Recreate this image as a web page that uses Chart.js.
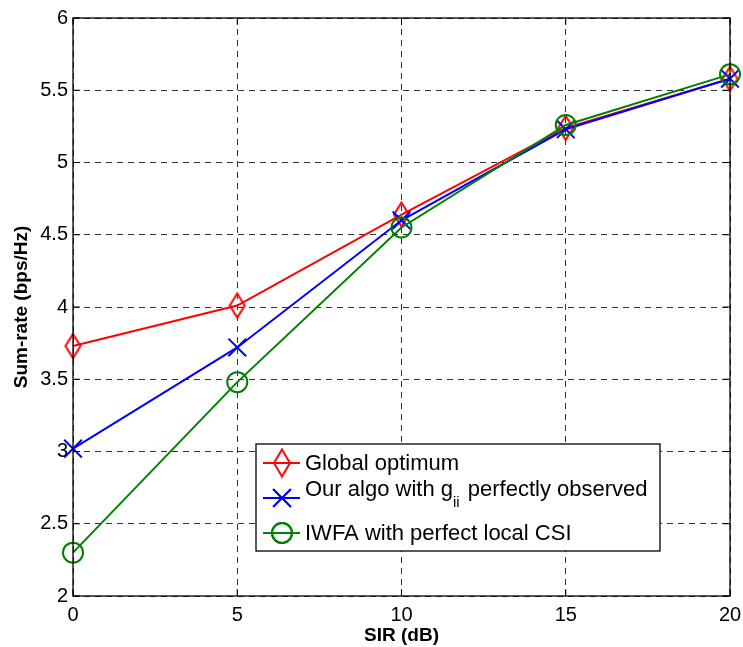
<!DOCTYPE html>
<html>
<head>
<meta charset="utf-8">
<script src="https://cdn.jsdelivr.net/npm/chart.js@4"></script>
<style>
  html, body { margin: 0; padding: 0; background: #fff; }
  #wrap { width: 743px; height: 647px; }
</style>
</head>
<body>
<div id="wrap"><canvas id="chart" width="743" height="647"></canvas></div>
<script>
// data
const sir = [0, 5, 10, 15, 20];
const globalOpt = [3.73, 4.01, 4.64, 5.24, 5.58];
const ourAlgo = [3.02, 3.72, 4.60, 5.23, 5.58];
const iwfa = [2.30, 3.48, 4.55, 5.26, 5.61];
const seriesNames = ["Global optimum", "Our algo with g_{ii} perfectly observed", "IWFA with perfect local CSI"];
const seriesColors = ["#ff0000", "#0000ff", "#008000"];
const xTicks = [0, 5, 10, 15, 20];
const yTicks = [2, 2.5, 3, 3.5, 4, 4.5, 5, 5.5, 6];

const FONT = "'Liberation Sans', Arial, Helvetica, sans-serif";

// matlab's 'd' marker is taller than wide, so draw it on a small canvas
function diamond(w, h, color) {
  const c = document.createElement('canvas');
  c.width = w + 4; c.height = h + 4;
  const g = c.getContext('2d');
  g.strokeStyle = color;
  g.lineWidth = 2;
  g.beginPath();
  g.moveTo(c.width / 2, 2);
  g.lineTo(c.width - 2, c.height / 2);
  g.lineTo(c.width / 2, c.height - 2);
  g.lineTo(2, c.height / 2);
  g.closePath();
  g.stroke();
  return c;
}

const seriesMarkers = [diamond(15, 24, seriesColors[0]), "crossRot", "circle"];
const legendMarkers = [diamond(16, 27, seriesColors[0]), "crossRot", "circle"];
const markerSize = [11, 12.5, 10];

function pts(ys) {
  return sir.map((x, i) => ({ x: x, y: ys[i] }));
}

const datasets = [globalOpt, ourAlgo, iwfa].map((ys, i) => ({
  label: seriesNames[i],
  data: pts(ys),
  borderColor: seriesColors[i],
  backgroundColor: 'rgba(0,0,0,0)',
  pointBorderColor: seriesColors[i],
  pointBackgroundColor: 'rgba(0,0,0,0)',
  pointStyle: seriesMarkers[i],
  pointRadius: markerSize[i],
  pointBorderWidth: 2,
  borderWidth: 2,
  tension: 0,
  clip: false,
  order: 3 - i   // later series on top, like matlab
}));

// box, inward ticks and the legend, drawn matlab style
const matlabBox = {
  id: 'matlabBox',
  afterDatasetsDraw(chart) {
    const ctx = chart.ctx;
    const a = chart.chartArea;
    const xs = chart.scales.x, ys = chart.scales.y;
    ctx.save();
    ctx.strokeStyle = '#000';
    ctx.lineWidth = 1.3;
    ctx.setLineDash([]);
    ctx.strokeRect(a.left, a.top, a.right - a.left, a.bottom - a.top);
    // inward ticks
    ctx.lineWidth = 1;
    xTicks.forEach(v => {
      const px = xs.getPixelForValue(v);
      ctx.beginPath();
      ctx.moveTo(px, a.bottom); ctx.lineTo(px, a.bottom - 7);
      ctx.moveTo(px, a.top); ctx.lineTo(px, a.top + 7);
      ctx.stroke();
    });
    yTicks.forEach(v => {
      const py = ys.getPixelForValue(v);
      ctx.beginPath();
      ctx.moveTo(a.left, py); ctx.lineTo(a.left + 7, py);
      ctx.moveTo(a.right, py); ctx.lineTo(a.right - 7, py);
      ctx.stroke();
    });

    // legend
    const lx = 256, ly = 444, lw = 404, lh = 107;
    ctx.fillStyle = '#fff';
    ctx.fillRect(lx, ly, lw, lh);
    ctx.strokeStyle = '#000';
    ctx.lineWidth = 1.3;
    ctx.strokeRect(lx, ly, lw, lh);
    const rows = [463, 498, 533];
    const legSize = [12, 12.5, 10];
    chart.data.datasets.forEach((ds, i) => {
      const y = rows[i];
      ctx.strokeStyle = ds.borderColor;
      ctx.lineWidth = 2;
      ctx.beginPath();
      ctx.moveTo(lx + 7, y); ctx.lineTo(lx + 44, y);
      ctx.stroke();
      ctx.fillStyle = 'rgba(0,0,0,0)';
      Chart.helpers.drawPoint(ctx, {
        pointStyle: legendMarkers[i], radius: legSize[i], borderWidth: 2, rotation: 0
      }, lx + 26, y);
      ctx.stroke();
      // text, with optional subscript written as _{...}
      ctx.fillStyle = '#000';
      ctx.textBaseline = 'middle';
      ctx.textAlign = 'left';
      const m = ds.label.match(/^(.*?)_\{(.*?)\}(.*)$/);
      let tx = lx + 49;
      ctx.font = '22px ' + FONT;
      if (m) {
        ctx.fillText(m[1], tx, y - 8);
        tx += ctx.measureText(m[1]).width;
        ctx.font = '15px ' + FONT;
        ctx.fillText(m[2], tx, y + 5);
        tx += ctx.measureText(m[2]).width + 2;
        ctx.font = '22px ' + FONT;
        ctx.fillText(m[3], tx, y - 8);
      } else {
        ctx.fillText(ds.label, tx, y + 1);
      }
    });
    ctx.restore();
  }
};

new Chart(document.getElementById('chart'), {
  type: 'line',
  data: { datasets: datasets },
  options: {
    responsive: false,
    animation: false,
    events: [],
    layout: { autoPadding: false, padding: { top: 18, right: 13, left: 0, bottom: 0 } },
    plugins: {
      legend: { display: false },
      tooltip: { enabled: false }
    },
    scales: {
      x: {
        type: 'linear',
        min: 0, max: 20,
        afterBuildTicks: s => { s.ticks = xTicks.map(v => ({ value: v })); },
        afterFit: s => { s.height = 51; s.paddingLeft = 0; s.paddingRight = 0; },
        border: { display: false, dash: [6, 5] },
        grid: { color: '#333', lineWidth: 1, drawTicks: false },
        ticks: {
          color: '#000', padding: 7,
          font: { family: FONT, size: 20 },
          callback: v => String(v)
        },
        title: {
          display: true, text: 'SIR (dB)', color: '#000', padding: { top: 0, bottom: 0 },
          font: { family: FONT, size: 19, weight: 'bold' }
        }
      },
      y: {
        type: 'linear',
        min: 2, max: 6,
        afterBuildTicks: s => { s.ticks = yTicks.map(v => ({ value: v })); },
        afterFit: s => { s.width = 73; s.paddingTop = 0; s.paddingBottom = 0; },
        border: { display: false, dash: [6, 5] },
        grid: { color: '#333', lineWidth: 1, drawTicks: false },
        ticks: {
          color: '#000', padding: 5,
          font: { family: FONT, size: 20 },
          callback: v => String(v)
        },
        title: {
          display: true, text: 'Sum-rate (bps/Hz)', color: '#000', padding: { top: 10, bottom: 0 },
          font: { family: FONT, size: 19, weight: 'bold' }
        }
      }
    }
  },
  plugins: [matlabBox]
});
</script>
</body>
</html>
